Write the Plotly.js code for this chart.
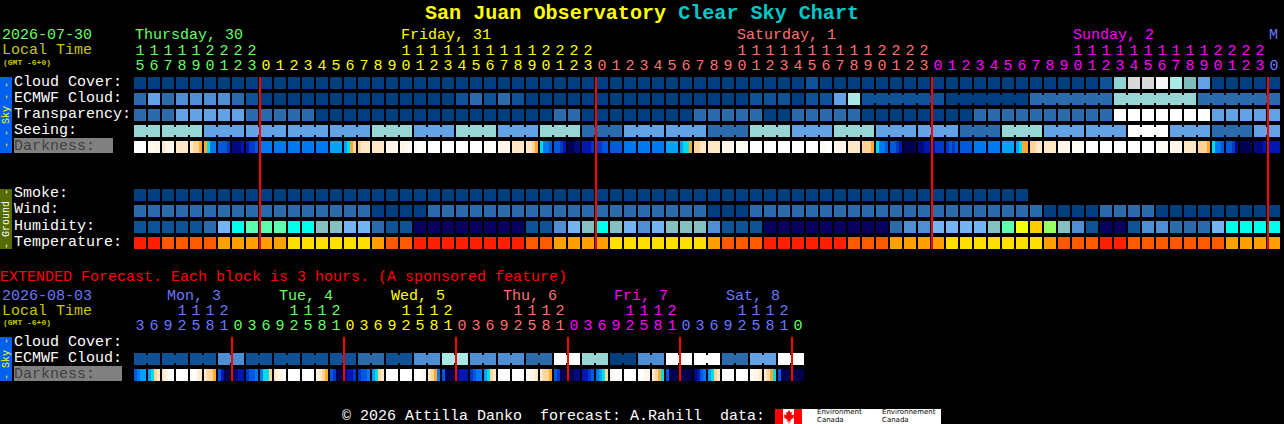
<!DOCTYPE html>
<html><head><meta charset="utf-8">
<script src="https://cdn.plot.ly/plotly-3.0.1.min.js"></script>
<style>html,body{margin:0;padding:0;background:#000;overflow:hidden}</style>
</head><body><div id="chart" style="width:1284px;height:424px"></div>
<script>
// ---------- hourly forecast values (colour codes per hour) ----------
const cloudCover   = "aaaaaaaaaa aaaaaaaaaa aaaaaaaaaa aaaaaaaaaa aaaaaaaaba aaaaaaaaaa aaaaaaaaab TGGWgQeaaa aa";
const ecmwfCloud   = "cecddddcba aaaaaaaaaa aaabcbcbaa aaaaaaaaaa aaaabbbabb egbbbbbbaa aaaacccccc ttttttcccc cc";
const transparency = "ccceeeeecc cccaaaaaaa aaaaaaaaaa ccaaaaaaaa cccccaaccc ccaaaaaaaa cccccccccc wwwwwwweee ee";
const seeing       = "ttttteeeee eeeeeeettt eeettteeet ttccceeeee ecccttteee ttteeeeeec ccttteeeee ewwweeeccc ee";
const smoke        = "aaaaaaaaaa aaaaaaaaaa aaaaaaaaaa aaaaaaaaaa aaaaaaaaaa aaaaaaaaaa aaaa";
const wind         = "cccccccccc cccccccaaa accccccccc cccccccccc caaacccccc cccccccccc cccccaaaac cccaaaaaaa aa";
const humidity     = "bbbbbcfChh hCCqqffcbb nnnnnnnnbb dfqCqfdfqq qdbbbnnnnn nnnncddfff fqhyBlqdbn nbddcccfCC CC";
const temperature  = "RROOOOAAAA AYYYYYYAOO RRRRRRRROO AAAAYYYYYY YAOOORRRRR ROOOAAAAYY YYYYYAOOOR ROOOOOOOAA AA";
// first hour of each joined block
const seeingBlocks = [0,2,5,8,11,14,17,20,23,26,29,32,35,38,41,44,47,50,53,56,59,62,65,68,71,74,77,80];
const ecmwfBlocks  = [52,58,64,70,76];
// darkness: four samples per hour block (0 = daylight ... 12 = darkest)
const darkness = [
[0,0,0,0],[1,.5,1,1],[2,1,1,1],[2,2,2,2],[2,3,3,4],[4,5,7,7],[8,8,8,9],[11,11,11,10],[10,9,9,8],
[7,7,7,7],[7,7,7,7],[7,7,7,7],[7,7,7,7],[7,7,7,7],[6,6,6,6],[6,5,4,3],[3,2,2,2],[2,2,2,2],[1,1,1,1],[1,1,.5,.5],[.5,0,0,.5],
[0,0,0,0],[0,0,0,0],[0,0,0,0],[0,0,0,0],[.5,.5,0,0],[1,1,1,1],[2,2,2,2],[2,2,3,4],[5,7,7,8],[8,8,9,10],[12,12,11,11],[10,10,10,9],
[9,9,8,8],[8,8,8,8],[7,7,7,7],[7,7,7,7],[7,7,7,7],[6,6,6,6],[6,5,5,4],[3,3,2,2],[2,2,2,2],[1,1,1,1],[.5,.5,.5,.5],[0,0,0,0],
[0,0,0,0],[0,0,0,0],[0,0,0,0],[0,0,0,0],[.5,.5,0,0],[1,1,1,1],[2,2,2,2],
[3,3,3,4],[5,7,7,8],[8,8,9,10],[12,12,12,12],[11,11,10,10],[10,9,9,9],[9,8,9,8],[8,8,8,8],[7,7,7,7],[7,7,7,7],[6,6,6,6],[6,5,4,4],
[3,3,2,2],[2,2,2,2],[1,1,1,1],[.5,.5,.5,.5],[0,0,0,0],[0,0,0,0],[0,0,0,0],[0,0,0,0],[0,0,0,0],[.5,.5,.5,.5],[1,1,1,1],[2,2,2,2],
[3,3,3,4],[5,7,7,8],[8,8,9,11],[12,12,12,12],[11,11,11,10],[10,10,10,10]];
// hour labels
const hourOnes = "567890123 012345678901234567890123 012345678901234567890123 012345678901234567890123 0";
const hourTens = "111112222 ..........11111111112222 ..........11111111112222 ..........11111111112222 .";
const dayStarts = [0,9,33,57,81];
const dayNames = [["Thursday, 30",0],["Friday, 31",19],["Saturday, 1",43],["Sunday, 2",67],["M",81]];

// ---------- extended forecast (3-hour blocks) ----------
const extEcmwfBlockValues = "bbbdbbbbcbdgddcwtadwwcew";
const extDarkness = [
[8,7,6,6],[6,5,3,2],[2,1,0,0],[0,0,0,0],[0,0,1,2],[2,3,3,4],[8,10,12,12],[12,11,10,10],[9,8,8,7],[7,5,5,3],[2,1,1,0],[0,0,0,0],
[0,0,0,0],[1,2,3,4],[8,9,12,12],[11,10,10,9],[9,8,8,7],[6,5,3,2],[0,0,0,0],[0,0,0,0],[0,0,.5,1],[2,3,4,7],[8,12,12,12],[11,10,10,10],
[9,8,7,7],[6,5,3,2],[0,0,0,0],[0,0,0,0],[0,1,1,2],[2,3,3,4],[8,9,12,12],[12,12,11,11],[10,10,9,8],[7,6,5,3],[1,0,0,0],[0,0,0,0],
[0,0,1,1],[2,3,4,5],[8,12,12,12],[12,12,12,12],[11,10,8,7],[6,5,3,2],[0,0,0,0],[0,0,0,0],[0,1,1,2],[2,3,4,5],[8,12,12,12],[12,12,12,12]];
const extOnes = "36925810369258103692581036925810369258103692581 0";
const extTens = "...1112....1112....1112....1112....1112....1112. .";
const extDayStarts = [0,7,15,23,31,39,47];
const extDayNames = [["Mon, 3",167],["Tue, 4",279],["Wed, 5",391],["Thu, 6",503],["Fri, 7",614],["Sat, 8",726]];

const midnights = [9,33,57,81];
const extMidnights = [7,15,23,31,39,47];

// ---------- styling ----------
const palette = {a:"#003F7F",b:"#0F5296",c:"#2B6AAB",d:"#4D8FD2",e:"#62A2E5",f:"#74B4F3",t:"#98D6D6",g:"#AAE8E6",w:"#FFFFFF",
 T:"#8DD4D2",G:"#D9D9D9",W:"#F6F6F6",Q:"#7FBDBD",q:"#85C0C0",C:"#00FFEA",h:"#5CFFB0",y:"#EEFF10",B:"#FFCC00",l:"#99FF66",n:"#0A0060",
 R:"#FF2000",O:"#FF5A00",A:"#FFA000",Y:"#FFDF00"};
const darkScale = [[0,"#FFFFFF"],[1/12,"#FFF6E8"],[2/12,"#FFE8C8"],[3/12,"#FFD498"],[4/12,"#FFA830"],[5/12,"#00DDE8"],[6/12,"#00A0FF"],
 [7/12,"#0078F0"],[8/12,"#0058DC"],[9/12,"#0038C8"],[10/12,"#0018B0"],[11/12,"#000A80"],[1,"#000050"]];
const dayColors = ["#66FF66","#FFFF00","#FF7070","#FF00FF","#6A78FF"];
const extDayColors = ["#6A78FF","#66FF66","#FFFF00","#FF7070","#FF00FF","#6A78FF","#66FF66"];
const W=1284,H=424, MONO="'Liberation Mono','DejaVu Sans Mono',monospace";

// axis units: one column = 14px, one row = 16px
const pxRow = p => (p-83)/16;
const CELL_W = 12/14, CELL_H = 12/16, SUB_W = 3/14, GAP_W = 2/14, BRIDGE_H = 8/16;
const clean = s => s.replace(/ /g,"").split("");
const blankBar = {type:"bar",hoverinfo:"skip",showlegend:false};

function cellRow(values,row){
  const v=clean(values);
  return {...blankBar,x:v.map((_,i)=>i),y:v.map(()=>CELL_H),base:v.map(()=>row-CELL_H/2),width:CELL_W,
    marker:{color:v.map(k=>palette[k]),line:{width:0}}};
}
function bridges(values,row,starts,from){
  const v=clean(values), xs=[], cols=[];
  for(let i=from;i<v.length-1;i++){ if(!starts.includes(i+1)){xs.push(i+.5);cols.push(palette[v[i]]);} }
  return {...blankBar,x:xs,y:xs.map(()=>BRIDGE_H),base:xs.map(()=>row-BRIDGE_H/2),width:GAP_W,marker:{color:cols,line:{width:0}}};
}
function darkRow(samples,row){
  const xs=[],zs=[];
  samples.forEach((cell,i)=>cell.forEach((z,s)=>{xs.push(i+(s-1.5)*SUB_W);zs.push(z);}));
  return {...blankBar,x:xs,y:xs.map(()=>CELL_H),base:xs.map(()=>row-CELL_H/2),width:SUB_W,
    marker:{color:zs,cmin:0,cmax:12,colorscale:darkScale,showscale:false,line:{width:0}}};
}
function redLines(cols,top,bottom){
  return {...blankBar,x:cols.map(c=>c-CELL_W/2),y:cols.map(()=>pxRow(bottom)-pxRow(top)),base:cols.map(()=>pxRow(top)),
    width:GAP_W,marker:{color:"#FF0000",line:{width:0}}};
}
function colorAt(i,starts,colors){let k=0;starts.forEach((s,j)=>{if(i>=s)k=j;});return colors[k];}
function digits(str,py,starts,colors){
  const v=clean(str);
  return {type:"scatter",mode:"text",x:v.map((_,i)=>i),y:v.map(()=>pxRow(py+1)),text:v.map(c=>c==="."?"":c),
    textposition:"middle center",textfont:{family:MONO,size:15,color:v.map((_,i)=>colorAt(i,starts,colors))},
    hoverinfo:"skip",showlegend:false,cliponaxis:false};
}
const R={cloud:0,ecmwf:1,transp:2,seeing:3,dark:4,smoke:7,wind:8,humid:9,temp:10,xecmwf:pxRow(359),xdark:pxRow(375)};
const extEcmwf = clean(extEcmwfBlockValues).map(c=>c+c).join("");
const extEcmwfStarts = clean(extEcmwfBlockValues).map((_,i)=>i*2);

const traces=[
  cellRow(cloudCover,R.cloud),cellRow(ecmwfCloud,R.ecmwf),bridges(ecmwfCloud,R.ecmwf,ecmwfBlocks,52),
  cellRow(transparency,R.transp),cellRow(seeing,R.seeing),bridges(seeing,R.seeing,seeingBlocks,0),
  darkRow(darkness,R.dark),
  cellRow(smoke,R.smoke),cellRow(wind,R.wind),cellRow(humidity,R.humid),cellRow(temperature,R.temp),
  cellRow(extEcmwf,R.xecmwf),bridges(extEcmwf,R.xecmwf,extEcmwfStarts,0),darkRow(extDarkness,R.xdark),
  redLines(midnights,77,249),redLines(extMidnights,337,381),
  digits(hourTens,50,dayStarts,dayColors),digits(hourOnes,65,dayStarts,dayColors),
  digits(extTens,310,extDayStarts,extDayColors),digits(extOnes,325,extDayStarts,extDayColors)
];

// ---------- text and furniture ----------
const fx=p=>p/W, fy=p=>1-p/H;
function ann(text,px,py,color,size,o={}){
  return Object.assign({text,xref:"paper",yref:"paper",x:fx(px-1),y:fy(py+1),xanchor:"left",yanchor:"middle",showarrow:false,borderpad:0,
    font:{family:MONO,size:size||15,color}},o);
}
function rect(x0,y0,x1,y1,color,layer){
  return {type:"rect",xref:"paper",yref:"paper",x0:fx(x0),x1:fx(x1),y0:fy(y0),y1:fy(y1),fillcolor:color,line:{width:0},layer:layer||"below"};
}
const WHITE="#FFFFFF", OLIVE="#C8C800";
const sideText=(t,py,c)=>ann(t,7,py-1,c,10,{xanchor:"center",textangle:-90});
const logoFont={font:{family:"'DejaVu Sans',sans-serif",size:7,color:"#000"}};
const annotations=[
  ann("2026-07-30",2,35,"#66FF66"),ann("Local Time",2,50,OLIVE),ann("<b>(GMT -6+0)</b>",3,61,OLIVE,8),
  ...dayNames.map(([t,c],i)=>ann(t,134+14*c+1,35,dayColors[i])),
  ...["Cloud Cover:","ECMWF Cloud:","Transparency:","Seeing:"].map((t,i)=>ann(t,14,81+16*i,WHITE)),
  ann("Darkness:",14,145,"#404040"),
  ...["Smoke:","Wind:","Humidity:","Temperature:"].map((t,i)=>ann(t,14,193+16*i,WHITE)),
  ann("EXTENDED Forecast. Each block is 3 hours. (A sponsored feature)",0,276,"#FF0000"),
  ann("2026-08-03",2,295,"#6A78FF"),ann("Local Time",2,310,OLIVE),ann("<b>(GMT -6+0)</b>",3,321,OLIVE,8),
  ...extDayNames.map(([t,x],i)=>ann(t,x,295,extDayColors[i])),
  ann("Cloud Cover:",14,341,WHITE),ann("ECMWF Cloud:",14,357,WHITE),ann("Darkness:",14,373,"#404040"),
  sideText("- - Sky - -",115,"#FFFF00"),sideText("- Ground -",219,WHITE),sideText("- Sky -",359,"#FFFF00"),
  ann("©\u00A02026\u00A0Attilla\u00A0Danko\u00A0\u00A0forecast:\u00A0A.Rahill\u00A0\u00A0data:",342,415,WHITE),
  ann("Environment",817,411,"#000",7,logoFont),
  ann("Canada",817,418.8,"#000",7,logoFont),
  ann("Environnement",882,411,"#000",7,logoFont),
  ann("Canada",882,418.8,"#000",7,logoFont)
];
const leaf=[[789,410],[790.5,412.5],[792,412],[791.5,415],[794,414.5],[793.5,416.5],[794.5,417],[790.5,420],[791,421.5],[789.5,421],[789.5,423.5],[788.5,423.5],[788.5,421],[787,421.5],[787.5,420],[783.5,417],[784.5,416.5],[784,414.5],[786.5,415],[786,412],[787.5,412.5]];
const shapes=[
  rect(0,77,12,153,"#0060F0"),rect(0,189,12,249,"#556B00"),rect(0,337,12,381,"#0060F0"),
  rect(14,138,113,153,"#808080"),rect(14,366,122,381,"#808080"),
  rect(775,409,941,424,"#FFFFFF"),rect(775,409,783,424,"#FF0000"),rect(794,409,802,424,"#FF0000"),
  {type:"path",xref:"paper",yref:"paper",line:{width:0},fillcolor:"#FF0000",layer:"below",
   path:"M"+leaf.map(([x,y])=>fx(x)+","+fy(y)).join("L")+"Z"}
];
const layout={
  width:W,height:H,margin:{l:0,r:0,t:0,b:0,pad:0},paper_bgcolor:"#000",plot_bgcolor:"rgba(0,0,0,0)",
  showlegend:false,barmode:"overlay",bargap:0,
  title:{text:'<b><span style="color:#FFFF00">San Juan Observatory</span> <span style="color:#00C8C8">Clear Sky Chart</span></b>',
    x:0.5,xanchor:"center",xref:"paper",y:1-12/H,yanchor:"middle",yref:"container",font:{family:MONO,size:20.1}},
  xaxis:{visible:false,fixedrange:true,range:[(0-140)/14,(W-140)/14]},
  yaxis:{visible:false,fixedrange:true,range:[pxRow(H),pxRow(0)]},
  annotations,shapes
};
Plotly.newPlot("chart",traces,layout,{staticPlot:true,displayModeBar:false});
</script></body></html>
